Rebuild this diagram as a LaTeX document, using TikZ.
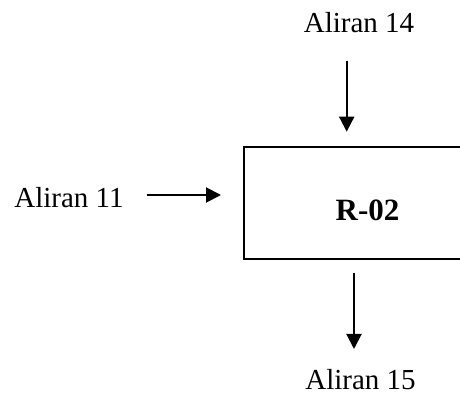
\documentclass[tikz,border=0pt]{standalone}
\usepackage{fontspec}
\setmainfont{Liberation Serif}
\usetikzlibrary{arrows.meta}
\tikzset{
  flow/.style={line width=1pt, -{Triangle[length=7.5pt,width=7.5pt]}},
  unitbox/.style={draw, line width=1pt, minimum width=123.5pt, minimum height=56.3pt, inner sep=0pt},
  streamlabel/.style={font=\fontsize{14.5}{17}\selectfont, inner sep=0pt},
  unitlabel/.style={font=\fontsize{15.5}{18}\selectfont\bfseries, inner sep=0pt}
}
\begin{document}
\begin{tikzpicture}[x=0.5pt, y=-0.5pt]
  \useasboundingbox (0,0) rectangle (460,394);
  \clip (0,0) rectangle (460,394);

  % reactor block
  \node[unitbox] (r02) at (367.5,203) {};
  \node[unitlabel, anchor=base] (r02label) at (367.5,221) {R-02};

  % stream labels
  \node[streamlabel, anchor=base] (s14) at (359,32.3) {Aliran 14};
  \node[streamlabel, anchor=base west] (s11) at (14,207.3) {Aliran 11};
  \node[streamlabel, anchor=base] (s15) at (360.5,390) {Aliran 15};

  % arrow end points
  \coordinate (a14s) at (346.7,60.7);
  \coordinate (a14e) at (346.7,131.7);
  \coordinate (a11s) at (146.7,195);
  \coordinate (a11e) at (221,195);
  \coordinate (a15s) at (354,272.7);
  \coordinate (a15e) at (354,349);

  \draw[flow] (a14s) -- (a14e);
  \draw[flow] (a11s) -- (a11e);
  \draw[flow] (a15s) -- (a15e);
\end{tikzpicture}
\end{document}
